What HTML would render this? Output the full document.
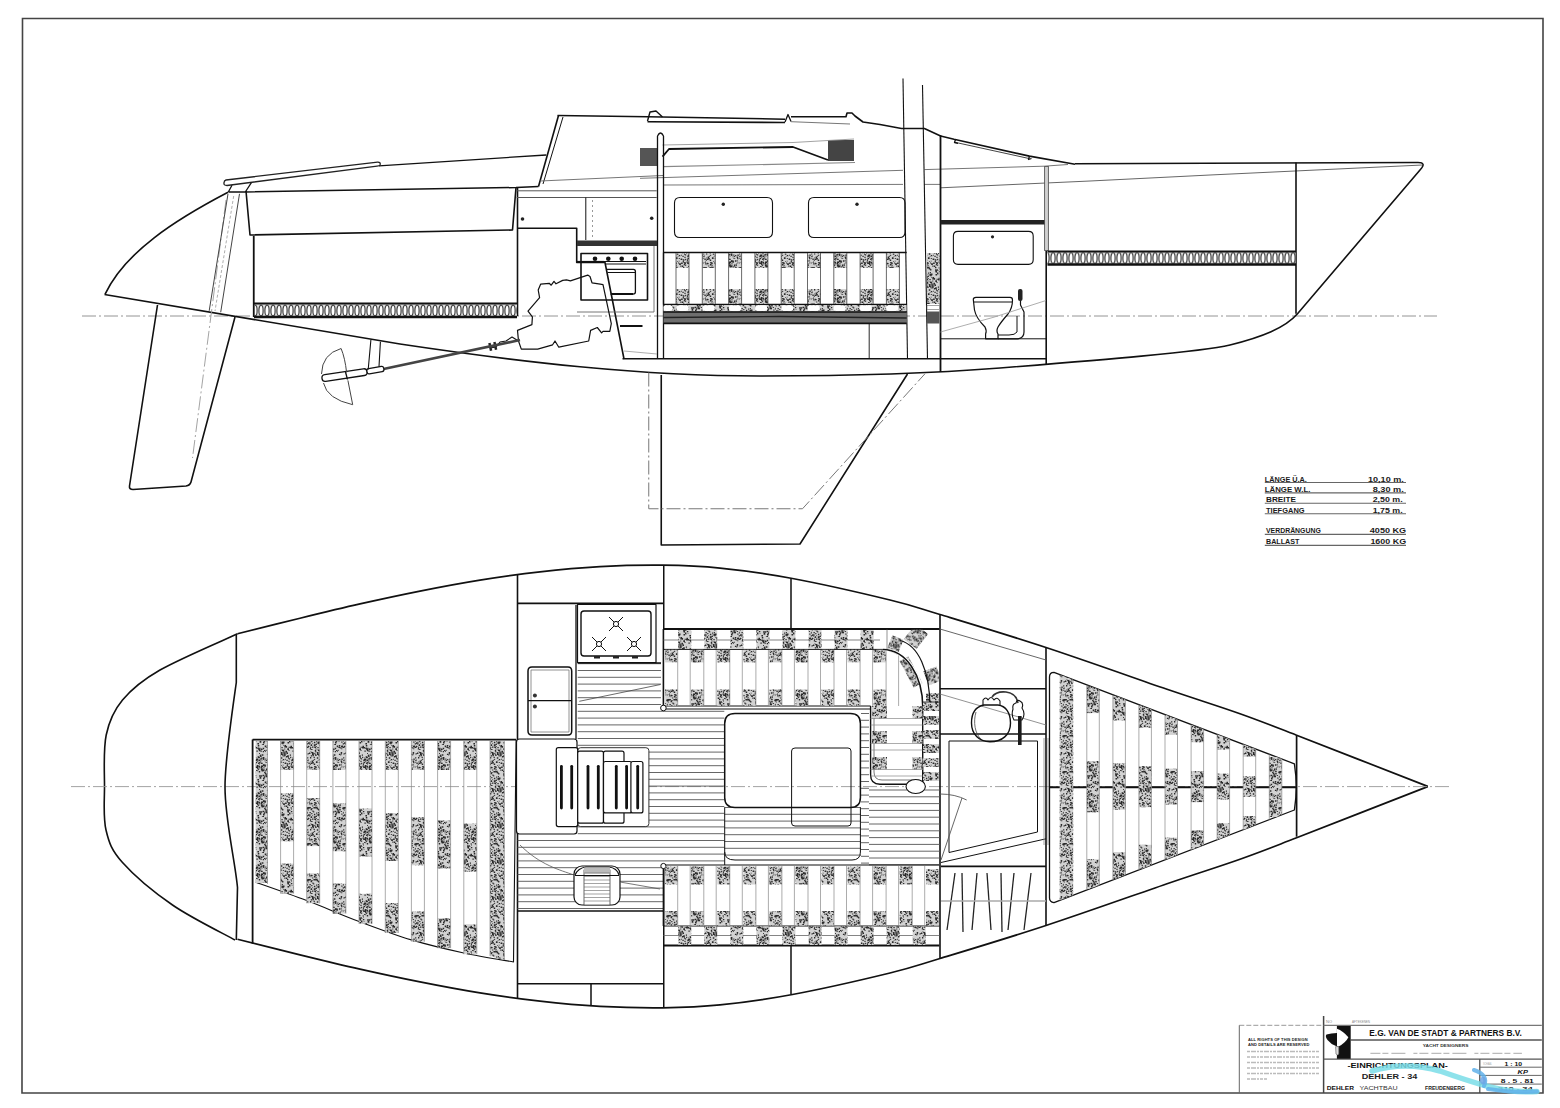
<!DOCTYPE html><html><head><meta charset="utf-8"><style>html,body{margin:0;padding:0;background:#fff;width:1560px;height:1108px;overflow:hidden}svg{display:block}</style></head><body>
<svg width="1560" height="1108" viewBox="0 0 1560 1108">
<defs>
<pattern id="st" width="36" height="36" patternUnits="userSpaceOnUse"><rect width="36" height="36" fill="#d2d2d2"/><path d="M8.6,19.6h1.1v1.1h-1.1zM21.7,22.5h0.8v0.8h-0.8zM0.5,30.1h1.0v1.0h-1.0zM36.5,30.1h1.0v1.0h-1.0zM8.4,35.8h1.2v1.2h-1.2zM8.4,-0.2h1.2v1.2h-1.2zM30.1,17.1h1.3v1.3h-1.3zM5.4,22.9h1.6v1.6h-1.6zM18.8,26.7h1.4v1.4h-1.4zM2.3,27.3h1.3v1.3h-1.3zM10.8,1.1h1.6v1.6h-1.6zM10.8,37.1h1.6v1.6h-1.6zM17.0,25.9h1.6v1.6h-1.6zM25.7,33.2h1.1v1.1h-1.1zM28.8,16.0h1.6v1.6h-1.6zM31.6,3.5h0.8v0.8h-0.8zM7.8,34.8h1.1v1.1h-1.1zM7.8,-1.2h1.1v1.1h-1.1zM22.6,10.8h1.2v1.2h-1.2zM13.9,12.6h1.3v1.3h-1.3zM21.0,32.6h1.4v1.4h-1.4zM33.4,30.8h1.7v1.7h-1.7zM24.2,5.9h1.6v1.6h-1.6zM34.7,32.6h1.3v1.3h-1.3zM-1.3,32.6h1.3v1.3h-1.3zM25.7,7.6h1.5v1.5h-1.5zM20.6,10.3h0.8v0.8h-0.8zM30.7,35.6h0.8v0.8h-0.8zM30.7,-0.4h0.8v0.8h-0.8zM28.8,14.8h0.9v0.9h-0.9zM10.6,27.7h1.6v1.6h-1.6zM1.6,22.1h0.7v0.7h-0.7zM37.6,22.1h0.7v0.7h-0.7zM25.9,11.9h1.6v1.6h-1.6zM35.3,18.2h1.7v1.7h-1.7zM-0.7,18.2h1.7v1.7h-1.7zM11.1,2.8h1.3v1.3h-1.3zM1.1,7.1h1.1v1.1h-1.1zM37.1,7.1h1.1v1.1h-1.1zM22.0,5.6h0.7v0.7h-0.7zM31.2,11.3h1.7v1.7h-1.7zM32.3,13.6h1.2v1.2h-1.2zM18.7,23.2h1.3v1.3h-1.3zM20.1,22.3h1.6v1.6h-1.6zM18.3,15.5h1.4v1.4h-1.4zM8.6,10.8h1.7v1.7h-1.7zM18.8,19.7h0.7v0.7h-0.7zM14.9,20.9h0.7v0.7h-0.7zM22.2,22.8h0.8v0.8h-0.8zM22.6,16.8h1.4v1.4h-1.4zM12.7,25.5h1.4v1.4h-1.4zM0.8,2.2h1.4v1.4h-1.4zM36.8,2.2h1.4v1.4h-1.4zM34.7,9.0h1.2v1.2h-1.2zM-1.3,9.0h1.2v1.2h-1.2zM21.3,11.5h1.1v1.1h-1.1zM11.3,13.3h1.3v1.3h-1.3zM10.8,13.6h1.5v1.5h-1.5zM1.0,20.5h1.4v1.4h-1.4zM37.0,20.5h1.4v1.4h-1.4zM11.2,8.0h1.5v1.5h-1.5zM8.6,6.7h1.1v1.1h-1.1zM25.1,3.7h1.0v1.0h-1.0zM12.0,30.0h1.1v1.1h-1.1zM30.8,6.1h1.0v1.0h-1.0zM23.4,31.9h1.2v1.2h-1.2zM8.1,4.4h1.2v1.2h-1.2zM6.9,29.0h1.5v1.5h-1.5zM6.6,10.0h1.5v1.5h-1.5zM23.1,29.0h1.0v1.0h-1.0zM4.7,10.5h1.5v1.5h-1.5zM9.8,12.5h1.1v1.1h-1.1zM15.1,14.7h1.6v1.6h-1.6zM5.6,0.2h1.6v1.6h-1.6zM5.6,36.2h1.6v1.6h-1.6zM31.7,35.5h1.1v1.1h-1.1zM31.7,-0.5h1.1v1.1h-1.1zM34.2,33.4h0.9v0.9h-0.9zM-1.8,33.4h0.9v0.9h-0.9zM26.8,30.1h1.4v1.4h-1.4zM18.7,10.4h1.0v1.0h-1.0zM8.2,2.5h1.3v1.3h-1.3zM10.3,29.2h0.7v0.7h-0.7zM32.5,25.0h1.6v1.6h-1.6zM32.3,32.4h1.3v1.3h-1.3zM0.5,26.8h0.9v0.9h-0.9zM36.5,26.8h0.9v0.9h-0.9zM10.8,23.9h1.2v1.2h-1.2zM14.9,33.8h1.3v1.3h-1.3zM12.3,9.1h1.6v1.6h-1.6zM17.2,28.2h1.1v1.1h-1.1zM7.1,19.2h1.5v1.5h-1.5zM6.2,28.5h1.6v1.6h-1.6zM29.0,29.6h0.7v0.7h-0.7zM22.6,31.1h0.7v0.7h-0.7zM9.8,9.7h1.2v1.2h-1.2zM15.2,17.0h1.5v1.5h-1.5zM0.1,2.0h0.8v0.8h-0.8zM0.1,38.0h0.8v0.8h-0.8zM36.1,2.0h0.8v0.8h-0.8zM36.1,38.0h0.8v0.8h-0.8zM4.5,2.5h1.7v1.7h-1.7zM30.8,3.1h1.2v1.2h-1.2zM11.4,11.3h1.1v1.1h-1.1zM23.3,21.1h1.1v1.1h-1.1zM6.9,11.8h0.8v0.8h-0.8zM20.0,25.8h1.1v1.1h-1.1zM2.9,6.4h1.1v1.1h-1.1zM21.8,28.2h1.1v1.1h-1.1zM28.8,22.4h1.1v1.1h-1.1zM13.4,17.9h1.4v1.4h-1.4zM15.1,25.0h1.2v1.2h-1.2zM8.8,19.3h1.4v1.4h-1.4zM2.6,15.3h1.1v1.1h-1.1zM31.7,33.7h1.1v1.1h-1.1zM32.3,28.5h1.0v1.0h-1.0zM16.7,4.4h1.5v1.5h-1.5zM23.8,31.9h1.5v1.5h-1.5zM24.0,26.4h1.3v1.3h-1.3zM3.7,21.2h0.7v0.7h-0.7zM5.2,27.9h0.7v0.7h-0.7zM3.3,3.6h1.6v1.6h-1.6zM6.4,0.8h1.5v1.5h-1.5zM6.4,36.8h1.5v1.5h-1.5zM4.4,30.4h1.4v1.4h-1.4zM30.1,34.3h1.3v1.3h-1.3zM30.1,-1.7h1.3v1.3h-1.3zM28.8,1.3h1.5v1.5h-1.5zM28.8,37.3h1.5v1.5h-1.5zM18.4,25.7h0.8v0.8h-0.8zM27.0,33.6h0.8v0.8h-0.8zM11.7,20.3h1.5v1.5h-1.5zM8.7,6.5h0.9v0.9h-0.9zM22.2,27.1h1.1v1.1h-1.1zM13.2,14.3h1.1v1.1h-1.1zM15.1,3.0h1.2v1.2h-1.2zM35.0,14.9h1.4v1.4h-1.4zM-1.0,14.9h1.4v1.4h-1.4zM5.8,24.9h1.5v1.5h-1.5zM24.3,18.6h1.2v1.2h-1.2zM23.1,32.3h0.8v0.8h-0.8zM3.5,26.9h1.6v1.6h-1.6zM18.6,15.9h1.4v1.4h-1.4zM6.7,9.6h0.9v0.9h-0.9zM21.1,11.3h0.9v0.9h-0.9zM24.9,34.3h1.0v1.0h-1.0zM24.9,-1.7h1.0v1.0h-1.0zM25.4,14.9h1.6v1.6h-1.6zM21.0,9.6h0.9v0.9h-0.9zM0.8,17.3h1.1v1.1h-1.1zM36.8,17.3h1.1v1.1h-1.1zM6.2,13.0h1.0v1.0h-1.0zM27.9,5.2h1.7v1.7h-1.7zM17.3,21.6h1.2v1.2h-1.2zM30.0,29.6h1.3v1.3h-1.3zM17.3,25.9h1.6v1.6h-1.6zM14.4,26.4h1.7v1.7h-1.7zM16.8,8.3h0.9v0.9h-0.9zM25.8,24.3h1.7v1.7h-1.7zM30.7,8.7h0.9v0.9h-0.9zM9.3,6.7h1.4v1.4h-1.4zM30.9,32.4h1.0v1.0h-1.0zM31.1,11.3h1.1v1.1h-1.1zM26.2,3.1h0.8v0.8h-0.8zM30.0,10.5h1.1v1.1h-1.1zM20.9,24.3h0.7v0.7h-0.7zM12.1,15.7h1.2v1.2h-1.2zM7.6,21.1h1.7v1.7h-1.7zM14.1,19.6h0.8v0.8h-0.8zM9.9,24.0h0.8v0.8h-0.8zM31.9,32.7h0.8v0.8h-0.8zM33.9,13.5h1.5v1.5h-1.5zM27.3,10.6h1.4v1.4h-1.4zM23.5,29.0h1.0v1.0h-1.0zM27.2,34.6h1.4v1.4h-1.4zM27.2,-1.4h1.4v1.4h-1.4zM19.3,4.1h1.2v1.2h-1.2zM12.7,25.9h1.4v1.4h-1.4zM20.4,6.6h1.3v1.3h-1.3zM22.7,6.4h1.6v1.6h-1.6zM23.6,4.4h1.6v1.6h-1.6zM5.1,11.9h1.4v1.4h-1.4zM21.5,20.0h1.3v1.3h-1.3zM16.5,11.2h0.9v0.9h-0.9zM2.5,25.8h1.5v1.5h-1.5zM19.6,26.6h1.1v1.1h-1.1zM9.6,13.8h1.6v1.6h-1.6zM1.5,18.2h0.9v0.9h-0.9zM37.5,18.2h0.9v0.9h-0.9zM27.7,12.7h1.0v1.0h-1.0zM14.5,19.5h1.5v1.5h-1.5zM12.7,30.5h0.8v0.8h-0.8zM9.7,3.6h0.8v0.8h-0.8zM28.0,26.2h0.9v0.9h-0.9zM6.8,15.0h1.4v1.4h-1.4zM29.4,27.0h1.3v1.3h-1.3zM5.3,14.3h0.9v0.9h-0.9zM19.0,20.5h0.9v0.9h-0.9zM9.0,28.1h0.7v0.7h-0.7zM28.9,32.1h1.6v1.6h-1.6zM13.8,19.9h1.3v1.3h-1.3zM22.8,35.2h1.4v1.4h-1.4zM22.8,-0.8h1.4v1.4h-1.4zM10.8,31.0h1.2v1.2h-1.2zM21.6,26.2h0.7v0.7h-0.7zM27.7,23.8h1.2v1.2h-1.2zM18.9,16.6h0.9v0.9h-0.9zM19.1,1.3h1.2v1.2h-1.2zM19.1,37.3h1.2v1.2h-1.2zM23.3,16.0h1.3v1.3h-1.3zM34.5,32.1h0.8v0.8h-0.8zM-1.5,32.1h0.8v0.8h-0.8zM28.5,22.4h0.8v0.8h-0.8zM13.0,8.4h0.8v0.8h-0.8zM19.4,33.5h1.0v1.0h-1.0zM31.3,25.0h0.8v0.8h-0.8zM30.9,21.6h1.6v1.6h-1.6zM25.8,26.6h1.0v1.0h-1.0zM29.0,33.5h1.6v1.6h-1.6zM15.7,27.2h1.2v1.2h-1.2zM3.9,1.5h0.8v0.8h-0.8zM3.9,37.5h0.8v0.8h-0.8zM7.2,5.8h1.2v1.2h-1.2zM25.2,19.3h1.1v1.1h-1.1zM23.4,11.0h1.2v1.2h-1.2zM27.3,14.5h0.9v0.9h-0.9zM32.4,25.9h1.1v1.1h-1.1zM13.4,19.1h1.3v1.3h-1.3zM8.1,0.1h0.9v0.9h-0.9zM8.1,36.1h0.9v0.9h-0.9zM28.2,5.2h1.2v1.2h-1.2zM7.0,7.5h0.9v0.9h-0.9zM14.5,6.1h0.7v0.7h-0.7zM4.0,6.1h1.2v1.2h-1.2zM2.1,0.8h1.1v1.1h-1.1zM2.1,36.8h1.1v1.1h-1.1zM14.7,25.3h0.8v0.8h-0.8zM14.5,14.3h0.7v0.7h-0.7zM34.8,7.9h0.8v0.8h-0.8zM-1.2,7.9h0.8v0.8h-0.8zM17.1,5.9h1.3v1.3h-1.3zM12.5,4.5h0.8v0.8h-0.8zM26.2,9.9h1.5v1.5h-1.5zM16.8,33.6h1.0v1.0h-1.0zM9.0,9.6h1.5v1.5h-1.5zM22.6,12.4h0.8v0.8h-0.8zM24.6,34.9h1.3v1.3h-1.3zM24.6,-1.1h1.3v1.3h-1.3zM0.1,1.1h0.8v0.8h-0.8zM0.1,37.1h0.8v0.8h-0.8zM36.1,1.1h0.8v0.8h-0.8zM36.1,37.1h0.8v0.8h-0.8zM6.1,1.3h0.8v0.8h-0.8zM6.1,37.3h0.8v0.8h-0.8zM23.6,32.4h0.9v0.9h-0.9zM35.1,17.2h1.5v1.5h-1.5zM-0.9,17.2h1.5v1.5h-1.5zM33.0,33.8h0.7v0.7h-0.7zM11.0,21.8h1.6v1.6h-1.6zM3.2,10.6h1.5v1.5h-1.5zM4.1,14.0h1.0v1.0h-1.0zM24.5,33.4h0.9v0.9h-0.9zM26.6,26.4h1.5v1.5h-1.5zM19.9,33.2h1.1v1.1h-1.1zM14.9,8.3h1.5v1.5h-1.5zM17.3,9.7h0.9v0.9h-0.9zM25.9,21.8h1.4v1.4h-1.4zM13.9,17.5h0.9v0.9h-0.9zM25.6,0.8h1.2v1.2h-1.2zM25.6,36.8h1.2v1.2h-1.2zM27.3,24.4h0.8v0.8h-0.8zM8.5,30.4h1.3v1.3h-1.3zM31.6,31.4h1.1v1.1h-1.1zM32.3,26.4h1.0v1.0h-1.0zM13.3,2.6h1.1v1.1h-1.1zM34.4,3.8h1.3v1.3h-1.3zM-1.6,3.8h1.3v1.3h-1.3zM4.0,2.9h1.3v1.3h-1.3zM8.7,1.8h0.9v0.9h-0.9zM8.7,37.8h0.9v0.9h-0.9zM23.2,21.1h0.7v0.7h-0.7zM8.3,34.8h0.9v0.9h-0.9zM8.3,-1.2h0.9v0.9h-0.9zM20.2,15.1h1.5v1.5h-1.5zM21.8,28.4h1.2v1.2h-1.2zM6.8,6.4h0.8v0.8h-0.8zM29.7,4.1h0.7v0.7h-0.7zM34.8,7.2h1.6v1.6h-1.6zM-1.2,7.2h1.6v1.6h-1.6zM3.1,16.7h0.9v0.9h-0.9zM29.9,22.2h1.3v1.3h-1.3zM27.4,31.4h1.0v1.0h-1.0zM21.7,16.0h0.8v0.8h-0.8zM30.1,21.4h1.5v1.5h-1.5zM7.4,19.4h1.2v1.2h-1.2zM26.2,2.8h1.0v1.0h-1.0zM17.4,2.6h1.3v1.3h-1.3zM26.5,15.2h1.3v1.3h-1.3zM21.8,7.7h1.1v1.1h-1.1zM35.8,12.1h1.1v1.1h-1.1zM-0.2,12.1h1.1v1.1h-1.1zM3.0,7.8h0.9v0.9h-0.9zM33.5,26.1h1.6v1.6h-1.6zM35.5,22.0h1.6v1.6h-1.6zM-0.5,22.0h1.6v1.6h-1.6zM19.3,15.1h1.6v1.6h-1.6zM32.5,34.2h1.2v1.2h-1.2zM32.5,-1.8h1.2v1.2h-1.2zM27.8,14.7h1.7v1.7h-1.7zM33.1,10.5h1.6v1.6h-1.6zM6.6,3.5h1.4v1.4h-1.4zM10.6,18.7h1.3v1.3h-1.3zM1.5,26.8h1.0v1.0h-1.0zM37.5,26.8h1.0v1.0h-1.0zM15.6,12.4h1.4v1.4h-1.4zM26.9,10.3h0.8v0.8h-0.8zM10.8,14.8h0.8v0.8h-0.8zM5.5,27.5h1.4v1.4h-1.4zM35.2,35.3h1.6v1.6h-1.6zM35.2,-0.7h1.6v1.6h-1.6zM-0.8,35.3h1.6v1.6h-1.6zM-0.8,-0.7h1.6v1.6h-1.6zM13.4,5.8h1.0v1.0h-1.0zM16.7,18.9h1.2v1.2h-1.2zM12.9,30.7h1.0v1.0h-1.0zM16.7,31.9h1.5v1.5h-1.5zM10.7,8.7h1.5v1.5h-1.5zM0.4,4.7h1.2v1.2h-1.2zM36.4,4.7h1.2v1.2h-1.2zM19.3,6.0h0.8v0.8h-0.8zM7.3,27.7h1.2v1.2h-1.2zM35.3,28.3h1.7v1.7h-1.7zM-0.7,28.3h1.7v1.7h-1.7zM1.3,6.7h0.7v0.7h-0.7zM37.3,6.7h0.7v0.7h-0.7zM15.6,12.2h0.8v0.8h-0.8zM19.7,3.4h1.0v1.0h-1.0zM8.9,28.9h1.1v1.1h-1.1zM9.4,1.6h1.1v1.1h-1.1zM9.4,37.6h1.1v1.1h-1.1zM22.6,24.3h1.6v1.6h-1.6zM29.1,8.9h0.8v0.8h-0.8zM27.3,28.4h1.2v1.2h-1.2zM29.9,19.9h1.0v1.0h-1.0zM6.1,0.6h1.3v1.3h-1.3zM6.1,36.6h1.3v1.3h-1.3zM32.3,32.6h1.2v1.2h-1.2zM24.0,33.4h1.5v1.5h-1.5zM21.7,14.9h1.2v1.2h-1.2zM6.1,6.6h1.4v1.4h-1.4zM35.7,19.7h1.1v1.1h-1.1zM-0.3,19.7h1.1v1.1h-1.1zM12.7,16.4h1.5v1.5h-1.5zM16.3,34.5h0.9v0.9h-0.9zM16.3,-1.5h0.9v0.9h-0.9zM11.3,18.8h1.1v1.1h-1.1zM30.6,29.8h1.6v1.6h-1.6zM22.0,1.1h1.3v1.3h-1.3zM22.0,37.1h1.3v1.3h-1.3zM19.8,17.6h1.0v1.0h-1.0zM25.5,32.8h0.8v0.8h-0.8zM24.1,13.4h1.2v1.2h-1.2zM32.2,34.6h1.3v1.3h-1.3zM32.2,-1.4h1.3v1.3h-1.3zM7.0,33.1h0.9v0.9h-0.9zM13.8,29.8h1.0v1.0h-1.0zM9.8,34.2h1.6v1.6h-1.6zM9.8,-1.8h1.6v1.6h-1.6zM11.4,14.1h1.0v1.0h-1.0zM4.7,9.0h1.7v1.7h-1.7zM2.9,8.3h0.9v0.9h-0.9zM2.9,18.9h1.4v1.4h-1.4zM30.2,22.7h1.5v1.5h-1.5zM0.2,10.2h1.7v1.7h-1.7zM36.2,10.2h1.7v1.7h-1.7zM2.5,9.6h1.2v1.2h-1.2zM9.6,19.7h0.7v0.7h-0.7zM8.5,34.5h0.8v0.8h-0.8zM8.5,-1.5h0.8v0.8h-0.8zM32.6,6.4h1.7v1.7h-1.7zM24.3,23.3h0.8v0.8h-0.8zM2.0,27.3h0.9v0.9h-0.9zM38.0,27.3h0.9v0.9h-0.9zM6.8,29.6h1.6v1.6h-1.6zM1.8,34.6h1.2v1.2h-1.2zM1.8,-1.4h1.2v1.2h-1.2zM37.8,34.6h1.2v1.2h-1.2zM37.8,-1.4h1.2v1.2h-1.2zM13.8,3.9h1.1v1.1h-1.1zM35.6,10.1h0.8v0.8h-0.8zM-0.4,10.1h0.8v0.8h-0.8zM5.2,4.6h1.1v1.1h-1.1zM32.9,2.8h0.9v0.9h-0.9zM33.8,35.9h1.7v1.7h-1.7zM33.8,-0.1h1.7v1.7h-1.7zM8.9,12.8h1.7v1.7h-1.7zM17.5,25.3h1.0v1.0h-1.0zM0.8,12.4h1.4v1.4h-1.4zM36.8,12.4h1.4v1.4h-1.4zM28.1,20.5h1.2v1.2h-1.2zM19.4,15.9h1.2v1.2h-1.2z" fill="#2a2a2a"/></pattern>
<pattern id="coil" width="6" height="13" patternUnits="userSpaceOnUse" patternTransform="translate(0,304)"><rect width="6" height="13" fill="#ddd"/><ellipse cx="3" cy="6.5" rx="2.1" ry="5.4" fill="#fff" stroke="#444" stroke-width="1.2"/></pattern><pattern id="coil2" width="6" height="13" patternUnits="userSpaceOnUse" patternTransform="translate(0,251.5)"><rect width="6" height="13" fill="#ddd"/><ellipse cx="3" cy="6.5" rx="2.1" ry="5.4" fill="#fff" stroke="#444" stroke-width="1.2"/></pattern>
</defs>
<rect width="1560" height="1108" fill="#fff"/>
<path d="M22.5,18.5 L1543,18.5 L1543,1093 L22,1093 Z" fill="none" stroke="#444" stroke-width="1.6"/>
<path d="M82,316 L1437,316" fill="none" stroke="#888" stroke-width="0.9" stroke-dasharray="14 3 2 3"/>
<path d="M104.5,294.5 L400,344 C520,362 640,376 760,376 C860,376 950,372 1000,368 C1100,360 1200,352 1230,345 C1262,337 1285,328 1297.5,313.75 L1420,170 Q1427,162.5 1418,162.5 L1075,163.75" fill="none" stroke="#111" stroke-width="1.6" stroke-linejoin="round" />
<path d="M228,192.3 C175,220 125,252 105.1,294.2" fill="none" stroke="#111" stroke-width="1.6" stroke-linejoin="round" />
<path d="M1075,164.2 L1029.4,156.1 L954,139.3 L940.6,136 L924.4,128.5 L901.5,128.5 L880,124.5 L863,122 L855,116 L852,113 L847,113 L846,116.7 L791,116.7" fill="none" stroke="#111" stroke-width="1.6" stroke-linejoin="round" />
<path d="M557.5,115.5 L647.5,116.7 L785,119.2" fill="none" stroke="#111" stroke-width="1.6" stroke-linejoin="round" />
<path d="M558.5,115.5 L538.5,186.5" fill="none" stroke="#111" stroke-width="1.6" stroke-linejoin="round" />
<path d="M563,117 L543,184" fill="none" stroke="#111" stroke-width="1.0" stroke-linejoin="round" />
<path d="M379,165.8 L546.25,155" fill="none" stroke="#111" stroke-width="1.3" stroke-linejoin="round" />
<path d="M245.3,192 L516,187.5 L538.5,186.5" fill="none" stroke="#111" stroke-width="1.5" stroke-linejoin="round" />
<path d="M246,191 L250,235 L512.5,230 L516,187.5" fill="none" stroke="#111" stroke-width="1.6" stroke-linejoin="round" />
<path d="M226,180 L377.5,162.2 Q381,162 380,165 Q379.5,166 377,166.2 L227,185.5 Q223.5,185.5 224,183 Q224,180.5 226,180 Z" fill="none" stroke="#222" stroke-width="1.3" stroke-linejoin="round" />
<path d="M228.3,192 L232,185.3 M245.3,192 L251.4,182.6 M228.3,192 L245.3,192" fill="none" stroke="#111" stroke-width="1.3" stroke-linejoin="round" />
<path d="M253.75,236 L253.75,317" fill="none" stroke="#111" stroke-width="1.8" stroke-linejoin="round" />
<path d="M517.5,187.5 L517.5,316" fill="none" stroke="#111" stroke-width="1.6" stroke-linejoin="round" />
<rect x="255" y="304" width="262" height="13" fill="url(#coil)"/>
<path d="M254,303.5 L517,303.5" fill="none" stroke="#111" stroke-width="1.8" stroke-linejoin="round" />
<path d="M254,317 L517,317" fill="none" stroke="#111" stroke-width="2.6" stroke-linejoin="round" />
<path d="M157.5,305 L129.5,486 Q129,489.5 133,489.5 L186,486 Q190,485.5 191,482 L235,317" fill="none" stroke="#111" stroke-width="1.6" stroke-linejoin="round" />
<path d="M226,200 L192.5,458" fill="none" stroke="#999" stroke-width="0.9" stroke-dasharray="14 3 2 3"/>
<path d="M228,193.8 L209.2,310.8" fill="none" stroke="#444" stroke-width="1.0" stroke-linejoin="round" />
<path d="M239.5,193.8 L220.7,312.3" fill="none" stroke="#444" stroke-width="1.0" stroke-linejoin="round" />
<path d="M233.7,196 L215,311" stroke="#999" stroke-width="0.8" stroke-dasharray="3 2"/>
<path d="M661.25,375 L661.25,545 L800,544 L907.5,374" fill="none" stroke="#111" stroke-width="1.6" stroke-linejoin="round" />
<path d="M648.75,372.5 L648.75,508.75 L802.5,508.75 L925,373.75" fill="none" stroke="#777" stroke-width="1.0" stroke-dasharray="14 3 2 3"/>
<path d="M540,181 L663,175.5" fill="none" stroke="#666" stroke-width="0.9" stroke-linejoin="round" />
<path d="M663,166.7 L855,162.5" fill="none" stroke="#888" stroke-width="1.2" stroke-linejoin="round" />
<path d="M640,178.3 L903,170.3 M924.4,169.6 L1044,166.2 L1068,164.5" fill="none" stroke="#666" stroke-width="0.9" stroke-linejoin="round" />
<path d="M663,185 L903,184.4 M924.4,184.4 L940,184.4" fill="none" stroke="#666" stroke-width="0.9" stroke-linejoin="round" />
<path d="M940.6,187.8 L1090,181 L1210,175 L1422.5,165" fill="none" stroke="#555" stroke-width="0.9" stroke-linejoin="round" />
<path d="M516.7,190.8 L656.7,190.8 M516.7,197.5 L656.7,197.5" fill="none" stroke="#555" stroke-width="1.0" stroke-linejoin="round" />
<path d="M647.5,121.7 L785,122.5" fill="none" stroke="#111" stroke-width="1.6" stroke-linejoin="round" />
<path d="M647.5,121 L650,112 L656,111 L662.5,116.9" fill="none" stroke="#111" stroke-width="1.4" stroke-linejoin="round" />
<path d="M785,122 L788,114.5 L791,121.5" fill="none" stroke="#111" stroke-width="1.3" stroke-linejoin="round" />
<path d="M791,121.7 L850,124" fill="none" stroke="#777" stroke-width="1.0" stroke-linejoin="round" />
<rect x="828" y="140" width="26" height="21" fill="#444"/>
<rect x="640" y="148" width="17" height="18" fill="#555"/>
<path d="M662.5,156.7 L669,149 L793,147 L828,160" fill="none" stroke="#111" stroke-width="1.8" stroke-linejoin="round" />
<path d="M662.5,145 L793,142.5 L854,139" fill="none" stroke="#999" stroke-width="0.9" stroke-linejoin="round" />
<path d="M903,78.5 L907.5,359" fill="none" stroke="#111" stroke-width="1.1" stroke-linejoin="round" />
<path d="M922.5,85 L927.5,359" fill="none" stroke="#111" stroke-width="1.1" stroke-linejoin="round" />
<path d="M657.5,136 L657.5,359 M663.5,136 L663.5,359 M657.5,136 Q660.5,130 663.5,136" fill="none" stroke="#111" stroke-width="1.3" stroke-linejoin="round" />
<path d="M956,142.5 L1029,158.5" fill="none" stroke="#444" stroke-width="1.0" stroke-linejoin="round" />
<path d="M955.5,139.5 L954.5,142.5 L958,143.3 M1029.5,156 L1028.5,159.5 L1031.5,158.5" fill="none" stroke="#111" stroke-width="1.3" stroke-linejoin="round" />
<path d="M940.5,135 L940.5,372" fill="none" stroke="#111" stroke-width="1.8" stroke-linejoin="round" />
<rect x="1044.6" y="166.5" width="3.8" height="84" fill="#d0d0d0" stroke="#555" stroke-width="0.9"/>
<path d="M1046.2,251 L1046.2,364" fill="none" stroke="#111" stroke-width="1.6" stroke-linejoin="round" />
<path d="M1296,162.5 L1296,313.75" fill="none" stroke="#111" stroke-width="1.6" stroke-linejoin="round" />
<path d="M517.5,228.3 L576.7,228.3 L576.7,262.5 L605,262.5 L624,359" fill="none" stroke="#111" stroke-width="1.6" stroke-linejoin="round" />
<path d="M585.8,197.5 L585.8,240" fill="none" stroke="#111" stroke-width="1.0" stroke-linejoin="round" />
<path d="M592.5,200 L592.5,240" fill="none" stroke="#999" stroke-width="1.0" stroke-linejoin="round" stroke-dasharray="2 3"/>
<circle cx="522.5" cy="219" r="1.8" fill="#222"/><circle cx="651.7" cy="218.3" r="1.8" fill="#222"/>
<rect x="577" y="240.5" width="80" height="5.5" fill="#333"/>
<path d="M581,253.5 L647.5,253.5 L647.5,300 L581,300 Z" fill="none" stroke="#111" stroke-width="1.6" stroke-linejoin="round" />
<path d="M577,261.7 L604,261.7" fill="none" stroke="#111" stroke-width="1.6" stroke-linejoin="round" />
<path d="M604,261.5 L646,261.5 M605,264 L646,264" fill="none" stroke="#111" stroke-width="1.0" stroke-linejoin="round" />
<circle cx="595" cy="258.7" r="2.3" fill="#111"/>
<circle cx="608.3" cy="258.7" r="2.3" fill="#111"/>
<circle cx="621.7" cy="258.7" r="2.3" fill="#111"/>
<circle cx="635" cy="258.7" r="2.3" fill="#111"/>
<path d="M607,269.3 L633.5,269.3 Q635.4,269.3 635.4,271.5 L635.4,292 Q635.4,294.1 633,294.1 L610.5,294.1" fill="none" stroke="#111" stroke-width="1.3" stroke-linejoin="round" />
<path d="M611,294 L633,294" fill="none" stroke="#111" stroke-width="2.0" stroke-linejoin="round" />
<path d="M607.5,272.5 L635,272.5" fill="none" stroke="#111" stroke-width="1.0" stroke-linejoin="round" />
<path d="M654,246 L654,312 L577,312" fill="none" stroke="#666" stroke-width="0.9" stroke-linejoin="round" />
<path d="M620,326 L642.5,326" fill="none" stroke="#111" stroke-width="2.0" stroke-linejoin="round" />
<path d="M624,351 L657,354" fill="none" stroke="#999" stroke-width="0.8" stroke-linejoin="round" />
<path d="M622.5,358.8 L1046,358.8" fill="none" stroke="#111" stroke-width="1.6" stroke-linejoin="round" />
<path d="M869.2,310 L869.2,358.8" fill="none" stroke="#111" stroke-width="0.9" stroke-linejoin="round" />
<path d="M680,197.5 L767,197.5 Q772.5,197.5 772.5,203 L772.5,232 Q772.5,237.5 767,237.5 L680,237.5 Q674.5,237.5 674.5,232 L674.5,203 Q674.5,197.5 680,197.5 Z" fill="none" stroke="#111" stroke-width="1.1" stroke-linejoin="round" />
<path d="M814,197.5 L899.5,197.5 Q905,197.5 905,203 L905,232 Q905,237.5 899.5,237.5 L814,237.5 Q808.5,237.5 808.5,232 L808.5,203 Q808.5,197.5 814,197.5 Z" fill="none" stroke="#111" stroke-width="1.1" stroke-linejoin="round" />
<circle cx="723.3" cy="204.2" r="1.7" fill="#222"/><circle cx="857" cy="204.2" r="1.7" fill="#222"/>
<path d="M663.5,252.5 L906.7,252.5 M663.5,304.4 L906.7,304.4 M663.5,252.5 L663.5,304.4" fill="none" stroke="#111" stroke-width="1.3" stroke-linejoin="round" />
<rect x="676.0" y="253.5" width="13" height="14.4" fill="url(#st)"/>
<rect x="676.0" y="289" width="13" height="14.5" fill="url(#st)"/>
<path d="M676.0,253 L676.0,304 M689.0,253 L689.0,304" fill="none" stroke="#444" stroke-width="0.8" stroke-linejoin="round" />
<rect x="702.3" y="253.5" width="13" height="14.4" fill="url(#st)"/>
<rect x="702.3" y="289" width="13" height="14.5" fill="url(#st)"/>
<path d="M702.3,253 L702.3,304 M715.3,253 L715.3,304" fill="none" stroke="#444" stroke-width="0.8" stroke-linejoin="round" />
<rect x="728.6" y="253.5" width="13" height="14.4" fill="url(#st)"/>
<rect x="728.6" y="289" width="13" height="14.5" fill="url(#st)"/>
<path d="M728.6,253 L728.6,304 M741.6,253 L741.6,304" fill="none" stroke="#444" stroke-width="0.8" stroke-linejoin="round" />
<rect x="754.9" y="253.5" width="13" height="14.4" fill="url(#st)"/>
<rect x="754.9" y="289" width="13" height="14.5" fill="url(#st)"/>
<path d="M754.9,253 L754.9,304 M767.9,253 L767.9,304" fill="none" stroke="#444" stroke-width="0.8" stroke-linejoin="round" />
<rect x="781.2" y="253.5" width="13" height="14.4" fill="url(#st)"/>
<rect x="781.2" y="289" width="13" height="14.5" fill="url(#st)"/>
<path d="M781.2,253 L781.2,304 M794.2,253 L794.2,304" fill="none" stroke="#444" stroke-width="0.8" stroke-linejoin="round" />
<rect x="807.5" y="253.5" width="13" height="14.4" fill="url(#st)"/>
<rect x="807.5" y="289" width="13" height="14.5" fill="url(#st)"/>
<path d="M807.5,253 L807.5,304 M820.5,253 L820.5,304" fill="none" stroke="#444" stroke-width="0.8" stroke-linejoin="round" />
<rect x="833.8" y="253.5" width="13" height="14.4" fill="url(#st)"/>
<rect x="833.8" y="289" width="13" height="14.5" fill="url(#st)"/>
<path d="M833.8,253 L833.8,304 M846.8,253 L846.8,304" fill="none" stroke="#444" stroke-width="0.8" stroke-linejoin="round" />
<rect x="860.1" y="253.5" width="13" height="14.4" fill="url(#st)"/>
<rect x="860.1" y="289" width="13" height="14.5" fill="url(#st)"/>
<path d="M860.1,253 L860.1,304 M873.1,253 L873.1,304" fill="none" stroke="#444" stroke-width="0.8" stroke-linejoin="round" />
<rect x="886.4" y="253.5" width="13" height="14.4" fill="url(#st)"/>
<rect x="886.4" y="289" width="13" height="14.5" fill="url(#st)"/>
<path d="M886.4,253 L886.4,304 M899.4,253 L899.4,304" fill="none" stroke="#444" stroke-width="0.8" stroke-linejoin="round" />
<rect x="927" y="253" width="12.5" height="51" fill="url(#st)"/>
<rect x="663.5" y="305" width="243" height="6.5" fill="url(#st)"/>
<rect x="676.5" y="305.3" width="12" height="5.6" rx="2.5" fill="#fff"/>
<rect x="702.7" y="305.3" width="12" height="5.6" rx="2.5" fill="#fff"/>
<rect x="728.9" y="305.3" width="12" height="5.6" rx="2.5" fill="#fff"/>
<rect x="755.1" y="305.3" width="12" height="5.6" rx="2.5" fill="#fff"/>
<rect x="781.3" y="305.3" width="12" height="5.6" rx="2.5" fill="#fff"/>
<rect x="807.5" y="305.3" width="12" height="5.6" rx="2.5" fill="#fff"/>
<rect x="833.7" y="305.3" width="12" height="5.6" rx="2.5" fill="#fff"/>
<rect x="859.9" y="305.3" width="12" height="5.6" rx="2.5" fill="#fff"/>
<rect x="886.1" y="305.3" width="12" height="5.6" rx="2.5" fill="#fff"/>
<rect x="663.5" y="305.3" width="9" height="5.6" rx="2.5" fill="#fff"/>
<rect x="663.5" y="311.5" width="243.2" height="12" fill="#6e6e6e"/>
<path d="M663.5,312 L906.7,312" fill="none" stroke="#111" stroke-width="1.3" stroke-linejoin="round" />
<path d="M663.5,317.5 L780,316.5 L906.7,318" fill="none" stroke="#222" stroke-width="1.4" stroke-linejoin="round" />
<path d="M663.5,323.3 L906.7,323.3" fill="none" stroke="#111" stroke-width="1.8" stroke-linejoin="round" />
<rect x="927" y="311.5" width="12.5" height="12" fill="#555"/>
<rect x="927" y="305.5" width="12.5" height="4" fill="#fff" stroke="#666" stroke-width="0.6"/>
<rect x="940.4" y="220" width="104" height="4.5" fill="#222"/>
<path d="M958,231.4 L1028.6,231.4 Q1033.2,231.4 1033.2,236 L1033.2,259.8 Q1033.2,264.4 1028.6,264.4 L958,264.4 Q953.4,264.4 953.4,259.8 L953.4,236 Q953.4,231.4 958,231.4 Z" fill="none" stroke="#111" stroke-width="1.1" stroke-linejoin="round" />
<circle cx="992.5" cy="236.8" r="1.6" fill="#222"/>
<path d="M973.3,299.5 Q973.3,297.4 976,297.4 L1010,297.4 Q1012.5,297.4 1012.5,300 Q1012.5,308 1008,314 Q1001,322 998,327 Q996,331 998,334 L998,338.8 L985.6,338.8 L985.6,334 Q987,331 985,327 Q976,318 974.5,310 Z" fill="none" stroke="#111" stroke-width="1.2" stroke-linejoin="round" />
<path d="M974,302 L1012,302" fill="none" stroke="#111" stroke-width="1.0" stroke-linejoin="round" />
<path d="M998,338.8 L1018,338.8 Q1024,338 1024,332 L1024,312 L1020.5,305 L1020.5,292" fill="none" stroke="#111" stroke-width="1.2" stroke-linejoin="round" />
<rect x="1018" y="289" width="4.5" height="12" rx="2" fill="#222"/>
<path d="M1017,316 L1017,332 Q1015,335 1009,335 L998,335" fill="none" stroke="#111" stroke-width="1.0" stroke-linejoin="round" />
<path d="M940.4,338.8 L1046,338.8" fill="none" stroke="#111" stroke-width="1.0" stroke-linejoin="round" />
<path d="M940.4,332 Q995,318 1046,300.5" fill="none" stroke="#999" stroke-width="0.8" stroke-linejoin="round" />
<rect x="1047.5" y="251.5" width="248" height="13" fill="url(#coil2)"/>
<path d="M1047.5,251.5 L1296,251.5" fill="none" stroke="#111" stroke-width="1.8" stroke-linejoin="round" />
<path d="M1047.5,264.5 L1296,264.5" fill="none" stroke="#111" stroke-width="2.6" stroke-linejoin="round" />
<path d="M540.6,284.2 L549.2,283.3 L551.2,285.2 L554,281.3 L556,283.8 L562.7,280.4 L566.5,279.9 L570.4,280.9 L587.7,275.1 L590,276.5 L592,282.8 L600.2,284.2 L603,284.7 L611.3,323.7 L609.8,331.3 L603,331.3 L601.6,332.8 L597.3,327.5 L590.6,330.4 L588.7,341 L558.8,347.2 L555,341 L552.6,344.8 L537.7,349.1 L521.3,349.1 L518.5,341 L517.5,330.4 L531.9,324.6 L532.4,316.9 L528,311.2 L539.6,297.7 L538.2,290 Z" fill="none" stroke="#111" stroke-width="1.2" stroke-linejoin="round" />
<path d="M518.5,341 L512,337 L506,341 L500,342 L496,347 L490,348" fill="none" stroke="#111" stroke-width="1.1" stroke-linejoin="round" />
<rect x="489" y="343" width="2.5" height="8" fill="#222" transform="rotate(-12 490 347)"/><rect x="494" y="342" width="2.5" height="8" fill="#222" transform="rotate(-12 495 346)"/>
<path d="M383.5,369 L520,340" fill="none" stroke="#444" stroke-width="2.6" stroke-linejoin="round" />
<rect x="322" y="375" width="45.5" height="6.8" rx="3.2" fill="#fff" stroke="#111" stroke-width="1.3" transform="rotate(-8.5 322 378.3)"/>
<rect x="367" y="369" width="17" height="5.2" rx="2" fill="#fff" stroke="#111" stroke-width="1.2" transform="rotate(-10 367 371.5)"/>
<path d="M345.5,372 L347.5,379.5" fill="none" stroke="#111" stroke-width="1.3" stroke-linejoin="round" />
<path d="M370.9,339.7 L368.2,369.5 M380.4,341.8 L379,366.8" fill="none" stroke="#111" stroke-width="1.1" stroke-linejoin="round" />
<path d="M341.1,348.5 Q322,354 321.5,374 M341.1,348.5 Q345,358 346.6,372.5 M323.5,383 Q327,399 352.7,404.7 L347.9,380.4" fill="none" stroke="#444" stroke-width="1.0" stroke-linejoin="round" />
<path d="M237.5,633.8 C247.9,631.2 279.6,623.2 300.0,618.2 C320.4,613.2 340.0,608.4 360.0,603.9 C380.0,599.4 400.0,595.1 420.0,591.1 C440.0,587.1 460.0,583.3 480.0,580.1 C500.0,576.9 520.0,574.0 540.0,571.8 C560.0,569.5 579.6,567.7 600.0,566.6 C620.4,565.5 642.5,565.0 662.5,565.2 C682.5,565.5 698.3,565.9 720.0,568.1 C741.7,570.3 764.2,573.2 792.5,578.5 C820.8,583.8 865.4,594.0 890.0,600.0 C914.6,606.0 914.0,606.6 940.0,614.5 C966.0,622.4 1007.7,634.9 1046.0,647.5 C1084.3,660.1 1137.7,679.2 1170.0,690.3 C1202.3,701.3 1218.9,706.3 1240.0,713.8 C1261.1,721.3 1265.3,723.1 1296.6,735.2 C1327.9,747.3 1405.8,777.9 1427.7,786.4" fill="none" stroke="#111" stroke-width="1.7" stroke-linejoin="round" />
<path d="M1427.7,786.6 C1405.8,795.1 1327.9,825.7 1296.6,837.8 C1265.3,849.9 1261.1,851.7 1240.0,859.2 C1218.9,866.7 1202.3,871.7 1170.0,882.7 C1137.7,893.8 1084.3,912.9 1046.0,925.5 C1007.7,938.1 966.0,950.6 940.0,958.5 C914.0,966.4 914.6,967.0 890.0,973.0 C865.4,979.0 820.8,989.2 792.5,994.5 C764.2,999.8 741.7,1002.7 720.0,1004.9 C698.3,1007.1 682.5,1007.5 662.5,1007.8 C642.5,1008.0 620.4,1007.5 600.0,1006.4 C579.6,1005.3 560.0,1003.5 540.0,1001.2 C520.0,999.0 500.0,996.1 480.0,992.9 C460.0,989.7 440.0,985.9 420.0,981.9 C400.0,977.9 380.0,973.6 360.0,969.1 C340.0,964.6 320.4,959.8 300.0,954.8 C279.6,949.8 247.9,941.8 237.5,939.2" fill="none" stroke="#111" stroke-width="1.7" stroke-linejoin="round" />
<path d="M237.5,633.8 C224.6,639.8 179.2,659.0 160.0,670.0 C140.8,681.0 131.5,689.2 122.5,700.0 C113.5,710.8 109.2,720.6 106.2,735.0 C103.2,749.4 104.5,770.6 104.5,786.4 C104.5,802.2 103.0,817.3 106.0,830.0 C109.0,842.7 111.4,850.0 122.5,862.5 C133.6,875.0 153.8,892.1 172.5,905.0 C191.2,917.9 224.6,934.2 235.0,940.0" fill="none" stroke="#111" stroke-width="1.6" stroke-linejoin="round" />
<path d="M71,786.6 L1450,786.6" fill="none" stroke="#999" stroke-width="0.9" stroke-dasharray="14 3 2 3"/>
<path d="M236.3,634 L236.3,682.5 C231,720 225,760 225,787 C225,820 235,860 237.5,887.5 L236.3,940" fill="none" stroke="#111" stroke-width="1.6" stroke-linejoin="round" />
<path d="M252.6,739.6 L516.1,739.6 M252.6,739.6 L252.6,943.8" fill="none" stroke="#111" stroke-width="1.8" stroke-linejoin="round" />
<path d="M255.7,882.3 C264.2,885.3 289.5,894.1 306.7,900.6 C323.9,907.1 341.7,915.0 359.1,921.5 C376.6,928.0 393.9,934.6 411.4,939.9 C428.8,945.1 446.8,949.3 463.8,953.0 C480.8,956.7 505.2,960.5 513.5,962.0 L516.1,740" fill="none" stroke="#111" stroke-width="1.1" stroke-linejoin="round" />
<rect x="255.7" y="741" width="11.8" height="142" fill="url(#st)"/>
<path d="M490,741 L504.3,741 L504.3,960 L490,956 Z" fill="url(#st)"/>
<path d="M267.5,741 L267.5,884 M490,741 L490,956 M504.3,741 L504.3,960" fill="none" stroke="#888" stroke-width="0.7" stroke-linejoin="round" />
<rect x="280.6" y="741" width="13" height="29" fill="url(#st)"/>
<rect x="280.6" y="793.3" width="13" height="48" fill="url(#st)"/>
<rect x="280.6" y="863.6" width="13" height="30" fill="url(#st)"/>
<path d="M280.6,741 L280.6,893.6 M293.6,741 L293.6,893.6" fill="none" stroke="#888" stroke-width="0.7" stroke-linejoin="round" />
<rect x="306.7" y="741" width="13" height="29" fill="url(#st)"/>
<rect x="306.7" y="798.1" width="13" height="48" fill="url(#st)"/>
<rect x="306.7" y="873.2" width="13" height="30" fill="url(#st)"/>
<path d="M306.7,741 L306.7,903.2 M319.7,741 L319.7,903.2" fill="none" stroke="#888" stroke-width="0.7" stroke-linejoin="round" />
<rect x="332.9" y="741" width="13" height="29" fill="url(#st)"/>
<rect x="332.9" y="803.3" width="13" height="48" fill="url(#st)"/>
<rect x="332.9" y="883.6" width="13" height="30" fill="url(#st)"/>
<path d="M332.9,741 L332.9,913.6 M345.9,741 L345.9,913.6" fill="none" stroke="#888" stroke-width="0.7" stroke-linejoin="round" />
<rect x="359" y="741" width="13" height="29" fill="url(#st)"/>
<rect x="359" y="808.4" width="13" height="48" fill="url(#st)"/>
<rect x="359" y="893.8" width="13" height="30" fill="url(#st)"/>
<path d="M359,741 L359,923.8 M372,741 L372,923.8" fill="none" stroke="#888" stroke-width="0.7" stroke-linejoin="round" />
<rect x="385.3" y="741" width="13" height="29" fill="url(#st)"/>
<rect x="385.3" y="813.0" width="13" height="48" fill="url(#st)"/>
<rect x="385.3" y="903.0" width="13" height="30" fill="url(#st)"/>
<path d="M385.3,741 L385.3,933.0 M398.3,741 L398.3,933.0" fill="none" stroke="#888" stroke-width="0.7" stroke-linejoin="round" />
<rect x="411.4" y="741" width="13" height="29" fill="url(#st)"/>
<rect x="411.4" y="817.3" width="13" height="48" fill="url(#st)"/>
<rect x="411.4" y="911.5" width="13" height="30" fill="url(#st)"/>
<path d="M411.4,741 L411.4,941.5 M424.4,741 L424.4,941.5" fill="none" stroke="#888" stroke-width="0.7" stroke-linejoin="round" />
<rect x="437.6" y="741" width="13" height="29" fill="url(#st)"/>
<rect x="437.6" y="820.5" width="13" height="48" fill="url(#st)"/>
<rect x="437.6" y="918.1" width="13" height="30" fill="url(#st)"/>
<path d="M437.6,741 L437.6,948.1 M450.6,741 L450.6,948.1" fill="none" stroke="#888" stroke-width="0.7" stroke-linejoin="round" />
<rect x="463.8" y="741" width="13" height="29" fill="url(#st)"/>
<rect x="463.8" y="823.6" width="13" height="48" fill="url(#st)"/>
<rect x="463.8" y="924.2" width="13" height="30" fill="url(#st)"/>
<path d="M463.8,741 L463.8,954.2 M476.8,741 L476.8,954.2" fill="none" stroke="#888" stroke-width="0.7" stroke-linejoin="round" />
<path d="M517.5,575 L517.5,999" fill="none" stroke="#111" stroke-width="1.6" stroke-linejoin="round" />
<path d="M663.75,565 L663.75,629 M663.75,865 L663.75,1008" fill="none" stroke="#111" stroke-width="1.5" stroke-linejoin="round" />
<path d="M791,578.5 L791,629 M791,946 L791,994" fill="none" stroke="#111" stroke-width="1.5" stroke-linejoin="round" />
<path d="M517.5,603.4 L663,603.4" fill="none" stroke="#111" stroke-width="1.6" stroke-linejoin="round" />
<path d="M517.5,983.75 L663.75,983.75 M591,983.75 L591,1006" fill="none" stroke="#111" stroke-width="1.5" stroke-linejoin="round" />
<path d="M940,614.5 L940,958.8" fill="none" stroke="#111" stroke-width="1.6" stroke-linejoin="round" />
<path d="M1046,647.5 L1046,925" fill="none" stroke="#111" stroke-width="1.6" stroke-linejoin="round" />
<path d="M1296.6,735.2 L1296.6,836.7" fill="none" stroke="#111" stroke-width="1.7" stroke-linejoin="round" />
<path d="M577.5,604.5 L656,604.5 L656,662.5 L577.5,662.5 Z" fill="none" stroke="#111" stroke-width="1.2" stroke-linejoin="round" />
<path d="M584,611 L648,611 Q651,611 651,614 L651,653 Q651,656 648,656 L584,656 Q581,656 581,653 L581,614 Q581,611 584,611 Z" fill="none" stroke="#111" stroke-width="1.4" stroke-linejoin="round" />
<path d="M609,617 L623,631 M609,631 L623,617" fill="none" stroke="#111" stroke-width="1.0" stroke-linejoin="round" />
<circle cx="616" cy="624" r="2.6" fill="#fff" stroke="#111" stroke-width="1"/>
<path d="M592,637 L606,651 M592,651 L606,637" fill="none" stroke="#111" stroke-width="1.0" stroke-linejoin="round" />
<circle cx="599" cy="644" r="2.6" fill="#fff" stroke="#111" stroke-width="1"/>
<path d="M627,637 L641,651 M627,651 L641,637" fill="none" stroke="#111" stroke-width="1.0" stroke-linejoin="round" />
<circle cx="634" cy="644" r="2.6" fill="#fff" stroke="#111" stroke-width="1"/>
<rect x="594" y="656" width="6" height="2.5" fill="#222"/>
<rect x="613" y="656" width="6" height="2.5" fill="#222"/>
<rect x="632" y="656" width="6" height="2.5" fill="#222"/>
<path d="M532,667 L568,667 Q571.7,667 571.7,671 L571.7,731 Q571.7,735 568,735 L532,735 Q528,735 528,731 L528,671 Q528,667 532,667 Z" fill="none" stroke="#111" stroke-width="1.5" stroke-linejoin="round" />
<path d="M531,670 L569,670 L569,732 L531,732 Z" fill="none" stroke="#777" stroke-width="0.8" stroke-linejoin="round" />
<path d="M528,700.6 L571.7,700.6" fill="none" stroke="#111" stroke-width="1.2" stroke-linejoin="round" />
<circle cx="534.9" cy="695.4" r="2" fill="#333"/><circle cx="534.9" cy="706.6" r="2" fill="#333"/>
<path d="M576,605 L576,739" fill="none" stroke="#111" stroke-width="1.3" stroke-linejoin="round" />
<path d="M577.7,663.7 L661,663.7 M577.7,670.5 L661,670.5 M577.7,677.3 L661,677.3 M577.7,684.1 L661,684.1 M577.7,690.9 L661,690.9 M577.7,697.7 L661,697.7 M577.7,704.5 L661,704.5 M577.7,711.3 L724.3,711.3 M577.7,718.1 L724.3,718.1 M577.7,724.9 L724.3,724.9 M577.7,731.7 L724.3,731.7 M577.7,738.5 L724.3,738.5 M577.7,745.3 L724.3,745.3 M577.7,752.1 L724.3,752.1 M577.7,758.9 L724.3,758.9 M577.7,765.7 L724.3,765.7 M577.7,772.5 L724.3,772.5 M577.7,779.3 L724.3,779.3 M577.7,786.1 L724.3,786.1 M577.7,792.9 L724.3,792.9 M577.7,799.7 L724.3,799.7 M577.7,806.5 L724.3,806.5 M577.7,813.3 L724.3,813.3 M577.7,820.1 L724.3,820.1 M577.7,826.9 L724.3,826.9 M577.7,833.7 L724.3,833.7 M517.5,840.5 L724.3,840.5 M517.5,847.3 L724.3,847.3 M517.5,854.1 L724.3,854.1 M517.5,860.9 L724.3,860.9 M517.5,867.7 L663,867.7 M517.5,874.5 L663,874.5 M517.5,881.3 L663,881.3 M517.5,888.1 L663,888.1 M517.5,894.9 L663,894.9 M517.5,901.7 L663,901.7 M517.5,908.5 L663,908.5 M724.3,807.5 L861,807.5 M724.3,814.3 L861,814.3 M724.3,821.1 L861,821.1 M724.3,827.9 L861,827.9 M724.3,834.7 L861,834.7 M724.3,841.5 L861,841.5 M724.3,848.3 L861,848.3 M724.3,855.1 L861,855.1 M861,713.5 L869,713.5 M861,720.3 L869,720.3 M861,727.1 L869,727.1 M861,733.9 L869,733.9 M861,740.7 L869,740.7 M861,747.5 L869,747.5 M861,754.3 L869,754.3 M861,761.1 L869,761.1 M861,767.9 L869,767.9 M861,774.7 L869,774.7 M861,781.5 L869,781.5 M861,788.3 L869,788.3 M861,795.1 L869,795.1 M861,801.9 L869,801.9 M861,808.7 L869,808.7 M861,815.5 L869,815.5 M861,822.3 L869,822.3 M861,829.1 L869,829.1 M861,835.9 L869,835.9 M861,842.7 L869,842.7 M861,849.5 L869,849.5 M861,856.3 L869,856.3 M861,863.1 L869,863.1 M869,790.0 L940,790.0 M869,796.8 L940,796.8 M869,803.6 L940,803.6 M869,810.4 L940,810.4 M869,817.2 L940,817.2 M869,824.0 L940,824.0 M869,830.8 L940,830.8 M869,837.6 L940,837.6 M869,844.4 L940,844.4 M869,851.2 L940,851.2 M869,858.0 L940,858.0 M869,864.8 L940,864.8" fill="none" stroke="#555" stroke-width="0.9"/>
<path d="M577.7,663 L661,663" fill="none" stroke="#111" stroke-width="1.4" stroke-linejoin="round" />
<path d="M517.5,911 L663,911" fill="none" stroke="#111" stroke-width="1.4" stroke-linejoin="round" />
<path d="M579.3,701.3 L660.5,684.5" fill="none" stroke="#444" stroke-width="0.8" stroke-linejoin="round" />
<rect x="516.5" y="739" width="60.5" height="95" rx="3" fill="#fff" stroke="#111" stroke-width="1.2"/>
<rect x="577.7" y="747.7" width="71.2" height="78.9" rx="3" fill="#fff" stroke="#333" stroke-width="1.0"/>
<rect x="556.3" y="747.7" width="21.4" height="78.9" rx="2" fill="#fff" stroke="#111" stroke-width="1.2"/>
<rect x="577.7" y="751.2" width="25.8" height="72" rx="2" fill="#fff" stroke="#111" stroke-width="1.2"/>
<rect x="603.5" y="751.2" width="20.5" height="72" rx="2" fill="#fff" stroke="#111" stroke-width="1.2"/>
<rect x="603.5" y="761.5" width="28.2" height="51.4" rx="2" fill="#fff" stroke="#111" stroke-width="1.2"/>
<rect x="630.9" y="761.5" width="12" height="51.4" rx="2" fill="#fff" stroke="#111" stroke-width="1.2"/>
<rect x="560.0" y="764.9" width="2.8" height="44.6" rx="1.4" fill="#111"/>
<rect x="570.3000000000001" y="764.9" width="2.8" height="44.6" rx="1.4" fill="#111"/>
<rect x="586.6" y="764.9" width="2.8" height="44.6" rx="1.4" fill="#111"/>
<rect x="596.9" y="764.9" width="2.8" height="44.6" rx="1.4" fill="#111"/>
<rect x="614.9" y="764.9" width="2.8" height="44.6" rx="1.4" fill="#111"/>
<rect x="625.2" y="764.9" width="2.8" height="44.6" rx="1.4" fill="#111"/>
<rect x="636.3000000000001" y="764.9" width="2.8" height="44.6" rx="1.4" fill="#111"/>
<rect x="574" y="866" width="46" height="39" rx="8" fill="#fff" stroke="#111" stroke-width="1.2"/>
<rect x="584" y="870" width="26" height="35" fill="#fff" stroke="#444" stroke-width="0.8"/>
<path d="M575,875 Q578,868 586,867 L609,867 Q617,868 619,875" fill="none" stroke="#111" stroke-width="1.1" stroke-linejoin="round" />
<rect x="584" y="867.5" width="26" height="6" fill="#bbb"/>
<path d="M575,875.5 L619,875.5" fill="none" stroke="#111" stroke-width="1.2" stroke-linejoin="round" />
<path d="M584,873.0 L610,873.0" stroke="#666" stroke-width="0.6"/>
<path d="M584,876.5 L610,876.5" stroke="#666" stroke-width="0.6"/>
<path d="M584,880.0 L610,880.0" stroke="#666" stroke-width="0.6"/>
<path d="M584,883.5 L610,883.5" stroke="#666" stroke-width="0.6"/>
<path d="M584,887.0 L610,887.0" stroke="#666" stroke-width="0.6"/>
<path d="M584,890.5 L610,890.5" stroke="#666" stroke-width="0.6"/>
<path d="M584,894.0 L610,894.0" stroke="#666" stroke-width="0.6"/>
<path d="M584,897.5 L610,897.5" stroke="#666" stroke-width="0.6"/>
<path d="M584,901.0 L610,901.0" stroke="#666" stroke-width="0.6"/>
<path d="M520,845 C540,865 560,870 574,875" fill="none" stroke="#555" stroke-width="0.8" stroke-linejoin="round" />
<path d="M620,882 L660,889" fill="none" stroke="#555" stroke-width="0.8" stroke-linejoin="round" />
<path d="M735,713.5 L850.4,713.5 Q860.4,713.5 860.4,723.5 L860.4,797.5 Q860.4,807.5 850.4,807.5 L735,807.5 Q724.7,807.5 724.7,797.5 L724.7,723.5 Q724.7,713.5 735,713.5 Z" fill="none" stroke="#111" stroke-width="1.5" stroke-linejoin="round" />
<path d="M724.7,807.5 L724.7,865 M860.4,807.5 L860.4,852 Q860.4,860 852,860 L735,860 Q724.7,860 724.7,852" fill="none" stroke="#111" stroke-width="1.0" stroke-linejoin="round" />
<path d="M795,748 L848,748 Q851,748 851,751 L851,823 Q851,826 848,826 L795,826 Q791.6,826 791.6,823 L791.6,751 Q791.6,748 795,748 Z" fill="none" stroke="#111" stroke-width="1.0" stroke-linejoin="round" />
<path d="M663.4,629 L939.4,629" fill="none" stroke="#111" stroke-width="1.8" stroke-linejoin="round" />
<path d="M663.4,629 L663.4,706" fill="none" stroke="#111" stroke-width="1.6" stroke-linejoin="round" />
<path d="M663.4,640 L880,640" fill="none" stroke="#666" stroke-width="0.8" stroke-linejoin="round" />
<path d="M663.4,649.4 L885,649.4" fill="none" stroke="#111" stroke-width="1.0" stroke-linejoin="round" />
<path d="M663.4,706 L870.6,706 M663.4,709 L870.6,709" fill="none" stroke="#111" stroke-width="1.0" stroke-linejoin="round" />
<rect x="678.2" y="630" width="13" height="19" fill="url(#st)"/>
<rect x="704.2" y="630" width="13" height="19" fill="url(#st)"/>
<rect x="730.3" y="630" width="13" height="19" fill="url(#st)"/>
<rect x="756.4" y="630" width="13" height="19" fill="url(#st)"/>
<rect x="782.4" y="630" width="13" height="19" fill="url(#st)"/>
<rect x="808.5" y="630" width="13" height="19" fill="url(#st)"/>
<rect x="834.5" y="630" width="13" height="19" fill="url(#st)"/>
<rect x="860.6" y="630" width="13" height="19" fill="url(#st)"/>
<rect x="665.2" y="649.8" width="12.5" height="12.6" fill="url(#st)"/>
<rect x="665.2" y="689.4" width="12.5" height="16.4" fill="url(#st)"/>
<path d="M677.7,650 L677.7,706 M690.2,650 L690.2,706" fill="none" stroke="#888" stroke-width="0.7" stroke-linejoin="round" />
<rect x="691.2" y="649.8" width="12.5" height="12.6" fill="url(#st)"/>
<rect x="691.2" y="689.4" width="12.5" height="16.4" fill="url(#st)"/>
<path d="M703.8,650 L703.8,706 M716.2,650 L716.2,706" fill="none" stroke="#888" stroke-width="0.7" stroke-linejoin="round" />
<rect x="717.3" y="649.8" width="12.5" height="12.6" fill="url(#st)"/>
<rect x="717.3" y="689.4" width="12.5" height="16.4" fill="url(#st)"/>
<path d="M729.8,650 L729.8,706 M742.3,650 L742.3,706" fill="none" stroke="#888" stroke-width="0.7" stroke-linejoin="round" />
<rect x="743.4" y="649.8" width="12.5" height="12.6" fill="url(#st)"/>
<rect x="743.4" y="689.4" width="12.5" height="16.4" fill="url(#st)"/>
<path d="M755.9,650 L755.9,706 M768.4,650 L768.4,706" fill="none" stroke="#888" stroke-width="0.7" stroke-linejoin="round" />
<rect x="769.4" y="649.8" width="12.5" height="12.6" fill="url(#st)"/>
<rect x="769.4" y="689.4" width="12.5" height="16.4" fill="url(#st)"/>
<path d="M781.9,650 L781.9,706 M794.4,650 L794.4,706" fill="none" stroke="#888" stroke-width="0.7" stroke-linejoin="round" />
<rect x="795.5" y="649.8" width="12.5" height="12.6" fill="url(#st)"/>
<rect x="795.5" y="689.4" width="12.5" height="16.4" fill="url(#st)"/>
<path d="M808.0,650 L808.0,706 M820.5,650 L820.5,706" fill="none" stroke="#888" stroke-width="0.7" stroke-linejoin="round" />
<rect x="821.5" y="649.8" width="12.5" height="12.6" fill="url(#st)"/>
<rect x="821.5" y="689.4" width="12.5" height="16.4" fill="url(#st)"/>
<path d="M834.0,650 L834.0,706 M846.5,650 L846.5,706" fill="none" stroke="#888" stroke-width="0.7" stroke-linejoin="round" />
<rect x="847.6" y="649.8" width="12.5" height="12.6" fill="url(#st)"/>
<rect x="847.6" y="689.4" width="12.5" height="16.4" fill="url(#st)"/>
<path d="M860.1,650 L860.1,706 M872.6,650 L872.6,706" fill="none" stroke="#888" stroke-width="0.7" stroke-linejoin="round" />
<rect x="873.6" y="649.8" width="12.5" height="12.6" fill="url(#st)"/>
<rect x="873.6" y="689.4" width="12.5" height="16.4" fill="url(#st)"/>
<path d="M886.1,650 L886.1,706 M898.6,650 L898.6,706" fill="none" stroke="#888" stroke-width="0.7" stroke-linejoin="round" />
<circle cx="663.4" cy="708" r="2.8" fill="#fff" stroke="#111" stroke-width="1"/>
<clipPath id="cclip"><rect x="883" y="629.8" width="56" height="78"/></clipPath><g clip-path="url(#cclip)">
<rect x="908" y="627" width="16" height="19" fill="url(#st)" transform="rotate(38 916 636.5)"/>
<rect x="925" y="669" width="15" height="14" fill="url(#st)" transform="rotate(70 932.5 676)"/>
<rect x="889" y="637" width="12" height="16" fill="url(#st)" transform="rotate(22 895 645)"/>
<rect x="906" y="657" width="10" height="30" fill="url(#st)" transform="rotate(-28 911 672)"/>
<rect x="926" y="693" width="13" height="9" fill="url(#st)"/>
</g>
<path d="M883,649.6 C906,650 922.8,675 922.8,702" fill="none" stroke="#fff" stroke-width="3"/>
<path d="M883,649.6 C906,650 922.8,675 922.8,707.7" fill="none" stroke="#111" stroke-width="1.5" stroke-linejoin="round" />
<path d="M900,640.5 C918,645 930,670 930,707.7" fill="none" stroke="#111" stroke-width="1.2" stroke-linejoin="round" />
<path d="M887,629.5 L887,649.4" fill="none" stroke="#666" stroke-width="0.7" stroke-linejoin="round" />
<path d="M870.6,706 L870.6,775 Q870.6,784.2 880,784.2 L922.7,784.2 L922.7,702" fill="none" stroke="#111" stroke-width="1.4" stroke-linejoin="round" />
<path d="M874,709 L874,772 Q874,780 882,780 L919,780" fill="none" stroke="#555" stroke-width="0.8" stroke-linejoin="round" />
<rect x="872" y="706" width="15" height="12.5" fill="url(#st)"/>
<rect x="912.5" y="706" width="10" height="12.5" fill="url(#st)"/>
<path d="M870.6,718.5 L922.7,718.5 M870.6,725 L922.7,725" fill="none" stroke="#888" stroke-width="0.7" stroke-linejoin="round" />
<rect x="872" y="731" width="15" height="12.5" fill="url(#st)"/>
<rect x="912.5" y="731" width="10" height="12.5" fill="url(#st)"/>
<path d="M870.6,743.5 L922.7,743.5 M870.6,750 L922.7,750" fill="none" stroke="#888" stroke-width="0.7" stroke-linejoin="round" />
<rect x="872" y="757" width="15" height="12.5" fill="url(#st)"/>
<rect x="912.5" y="757" width="10" height="12.5" fill="url(#st)"/>
<path d="M870.6,769.5 L922.7,769.5 M870.6,776 L922.7,776" fill="none" stroke="#888" stroke-width="0.7" stroke-linejoin="round" />
<rect x="923" y="702" width="16" height="9" fill="url(#st)"/>
<rect x="923" y="716" width="16" height="9" fill="url(#st)"/>
<rect x="923" y="730" width="16" height="9" fill="url(#st)"/>
<rect x="923" y="744" width="16" height="9" fill="url(#st)"/>
<rect x="923" y="758" width="16" height="9" fill="url(#st)"/>
<rect x="923" y="772" width="16" height="9" fill="url(#st)"/>
<path d="M922.7,702 L939.4,702" fill="none" stroke="#111" stroke-width="0.8" stroke-linejoin="round" />
<ellipse cx="915.7" cy="786.5" rx="9.7" ry="7" fill="#fff" stroke="#111" stroke-width="1.1"/>
<path d="M663.75,865 L939.4,865" fill="none" stroke="#111" stroke-width="1.2" stroke-linejoin="round" />
<path d="M663.4,866 L663.4,926" fill="none" stroke="#111" stroke-width="1.5" stroke-linejoin="round" />
<circle cx="663.4" cy="866" r="2.6" fill="#fff" stroke="#111" stroke-width="1"/>
<path d="M663.4,926 L939.4,926" fill="none" stroke="#111" stroke-width="1.0" stroke-linejoin="round" />
<path d="M663.4,935.5 L939.4,935.5" fill="none" stroke="#666" stroke-width="0.8" stroke-linejoin="round" />
<path d="M663.4,945.5 L939.4,945.5" fill="none" stroke="#111" stroke-width="1.8" stroke-linejoin="round" />
<rect x="665.2" y="866.5" width="12.5" height="18" fill="url(#st)"/>
<rect x="665.2" y="911" width="12.5" height="14.5" fill="url(#st)"/>
<path d="M677.7,866 L677.7,926 M690.2,866 L690.2,926" fill="none" stroke="#888" stroke-width="0.7" stroke-linejoin="round" />
<rect x="691.2" y="866.5" width="12.5" height="18" fill="url(#st)"/>
<rect x="691.2" y="911" width="12.5" height="14.5" fill="url(#st)"/>
<path d="M703.8,866 L703.8,926 M716.2,866 L716.2,926" fill="none" stroke="#888" stroke-width="0.7" stroke-linejoin="round" />
<rect x="717.3" y="866.5" width="12.5" height="18" fill="url(#st)"/>
<rect x="717.3" y="911" width="12.5" height="14.5" fill="url(#st)"/>
<path d="M729.8,866 L729.8,926 M742.3,866 L742.3,926" fill="none" stroke="#888" stroke-width="0.7" stroke-linejoin="round" />
<rect x="743.4" y="866.5" width="12.5" height="18" fill="url(#st)"/>
<rect x="743.4" y="911" width="12.5" height="14.5" fill="url(#st)"/>
<path d="M755.9,866 L755.9,926 M768.4,866 L768.4,926" fill="none" stroke="#888" stroke-width="0.7" stroke-linejoin="round" />
<rect x="769.4" y="866.5" width="12.5" height="18" fill="url(#st)"/>
<rect x="769.4" y="911" width="12.5" height="14.5" fill="url(#st)"/>
<path d="M781.9,866 L781.9,926 M794.4,866 L794.4,926" fill="none" stroke="#888" stroke-width="0.7" stroke-linejoin="round" />
<rect x="795.5" y="866.5" width="12.5" height="18" fill="url(#st)"/>
<rect x="795.5" y="911" width="12.5" height="14.5" fill="url(#st)"/>
<path d="M808.0,866 L808.0,926 M820.5,866 L820.5,926" fill="none" stroke="#888" stroke-width="0.7" stroke-linejoin="round" />
<rect x="821.5" y="866.5" width="12.5" height="18" fill="url(#st)"/>
<rect x="821.5" y="911" width="12.5" height="14.5" fill="url(#st)"/>
<path d="M834.0,866 L834.0,926 M846.5,866 L846.5,926" fill="none" stroke="#888" stroke-width="0.7" stroke-linejoin="round" />
<rect x="847.6" y="866.5" width="12.5" height="18" fill="url(#st)"/>
<rect x="847.6" y="911" width="12.5" height="14.5" fill="url(#st)"/>
<path d="M860.1,866 L860.1,926 M872.6,866 L872.6,926" fill="none" stroke="#888" stroke-width="0.7" stroke-linejoin="round" />
<rect x="873.6" y="866.5" width="12.5" height="18" fill="url(#st)"/>
<rect x="873.6" y="911" width="12.5" height="14.5" fill="url(#st)"/>
<path d="M886.1,866 L886.1,926 M898.6,866 L898.6,926" fill="none" stroke="#888" stroke-width="0.7" stroke-linejoin="round" />
<rect x="899.7" y="866.5" width="12.5" height="18" fill="url(#st)"/>
<rect x="899.7" y="911" width="12.5" height="14.5" fill="url(#st)"/>
<path d="M912.2,866 L912.2,926 M924.7,866 L924.7,926" fill="none" stroke="#888" stroke-width="0.7" stroke-linejoin="round" />
<rect x="678.2" y="926.5" width="13" height="18.5" fill="url(#st)"/>
<rect x="704.2" y="926.5" width="13" height="18.5" fill="url(#st)"/>
<rect x="730.3" y="926.5" width="13" height="18.5" fill="url(#st)"/>
<rect x="756.4" y="926.5" width="13" height="18.5" fill="url(#st)"/>
<rect x="782.4" y="926.5" width="13" height="18.5" fill="url(#st)"/>
<rect x="808.5" y="926.5" width="13" height="18.5" fill="url(#st)"/>
<rect x="834.5" y="926.5" width="13" height="18.5" fill="url(#st)"/>
<rect x="860.6" y="926.5" width="13" height="18.5" fill="url(#st)"/>
<rect x="886.6" y="926.5" width="13" height="18.5" fill="url(#st)"/>
<rect x="912.7" y="926.5" width="13" height="18.5" fill="url(#st)"/>
<rect x="926" y="869" width="13" height="15.5" fill="url(#st)"/><rect x="926" y="911" width="13" height="14.5" fill="url(#st)"/>
<path d="M940,629 L1046,660" fill="none" stroke="#555" stroke-width="0.9" stroke-linejoin="round" />
<path d="M940,688.8 L1046,688.8" fill="none" stroke="#111" stroke-width="1.6" stroke-linejoin="round" />
<path d="M940,694 L1046,725" fill="none" stroke="#777" stroke-width="0.8" stroke-linejoin="round" />
<path d="M940,734 L1046,734" fill="none" stroke="#111" stroke-width="1.5" stroke-linejoin="round" />
<path d="M949,741 L1037.5,741 L1037.5,832 L949,852.5 Z" fill="none" stroke="#111" stroke-width="1.0" stroke-linejoin="round" />
<path d="M941,862.5 L1046,838.8" fill="none" stroke="#111" stroke-width="1.0" stroke-linejoin="round" />
<path d="M941,866.3 L1046,866.3" fill="none" stroke="#111" stroke-width="1.7" stroke-linejoin="round" />
<path d="M1044,738 L1044,845 M1048,738 L1048,845" fill="none" stroke="#888" stroke-width="0.8" stroke-linejoin="round" />
<path d="M984,705 C974,707 971.5,715 971.5,723 C971.5,734 979,741.7 990,741.7 C1002,741.7 1010.5,735 1010.5,723 C1010.5,713 1006,706 998,705 Z" fill="none" stroke="#111" stroke-width="1.4" stroke-linejoin="round" />
<path d="M976,712 C973,722 975,734 981,739" fill="none" stroke="#444" stroke-width="0.8" stroke-linejoin="round" />
<path d="M983,705 L983,700 Q986,696 988,700 Q991,695 994,700 Q997,696 1000,701 L1000,705" fill="none" stroke="#111" stroke-width="1.1" stroke-linejoin="round" />
<path d="M992,697 Q996,691 1006,692 Q1016,693 1018,703" fill="none" stroke="#333" stroke-width="1.6" stroke-linejoin="round" />
<path d="M1013,709 Q1012,704 1016,703 Q1017,699 1020,701 Q1024,703 1022,708 Q1026,714 1022,720 L1014,720 Q1011,715 1013,709 Z" fill="none" stroke="#111" stroke-width="1.1" stroke-linejoin="round" />
<rect x="1018" y="716" width="3.6" height="29" fill="#1a1a1a"/>
<path d="M940,794 Q955,794 966.7,800 M962,798 L941,860" fill="none" stroke="#555" stroke-width="0.9" stroke-linejoin="round" />
<path d="M955,873 L947,930" fill="none" stroke="#222" stroke-width="1.3" stroke-linejoin="round" />
<path d="M962,873 L963,932" fill="none" stroke="#222" stroke-width="1.3" stroke-linejoin="round" />
<path d="M977,873 L972,930" fill="none" stroke="#222" stroke-width="1.3" stroke-linejoin="round" />
<path d="M987,873 L991,930" fill="none" stroke="#222" stroke-width="1.3" stroke-linejoin="round" />
<path d="M1001,873 L1002,932" fill="none" stroke="#222" stroke-width="1.3" stroke-linejoin="round" />
<path d="M1014,873 L1008,930" fill="none" stroke="#222" stroke-width="1.3" stroke-linejoin="round" />
<path d="M1031,873 L1024,930" fill="none" stroke="#222" stroke-width="1.3" stroke-linejoin="round" />
<path d="M941,901 L1046,901" fill="none" stroke="#aaa" stroke-width="1.3" stroke-linejoin="round" />
<path d="M1054,672.4 L1294.4,763.8 Q1298,787 1294.4,810 L1054,902.6 Q1049.5,902 1049.5,898 L1049.5,677 Q1049.5,672.4 1054,672.4 Z" fill="none" stroke="#111" stroke-width="1.3" stroke-linejoin="round" />
<path d="M1049.5,787.2 L1296,787.2" fill="none" stroke="#111" stroke-width="2.0" stroke-linejoin="round" />
<clipPath id="vclip"><path d="M1054,672.4 L1294.4,763.8 Q1298,787 1294.4,810 L1054,902.6 Q1049.5,902 1049.5,898 L1049.5,677 Q1049.5,672.4 1054,672.4 Z"/></clipPath>
<g clip-path="url(#vclip)"><rect x="1059.7" y="670" width="13.5" height="234" fill="url(#st)"/><rect x="1086.8" y="685.7" width="12.5" height="27.4" fill="url(#st)"/><rect x="1086.8" y="761.0" width="12.5" height="51.3" fill="url(#st)"/><rect x="1086.8" y="859.2" width="12.5" height="29.9" fill="url(#st)"/><path d="M1086.8,660 L1086.8,910 M1099.3,660 L1099.3,910" stroke="#888" stroke-width="0.7"/><rect x="1112.9" y="695.4" width="12.5" height="25.0" fill="url(#st)"/><rect x="1112.9" y="763.5" width="12.5" height="46.3" fill="url(#st)"/><rect x="1112.9" y="852.0" width="12.5" height="27.3" fill="url(#st)"/><path d="M1112.9,660 L1112.9,910 M1125.4,660 L1125.4,910" stroke="#888" stroke-width="0.7"/><rect x="1138.9" y="705.1" width="12.5" height="22.6" fill="url(#st)"/><rect x="1138.9" y="766.0" width="12.5" height="41.2" fill="url(#st)"/><rect x="1138.9" y="844.8" width="12.5" height="24.6" fill="url(#st)"/><path d="M1138.9,660 L1138.9,910 M1151.4,660 L1151.4,910" stroke="#888" stroke-width="0.7"/><rect x="1165.0" y="714.8" width="12.5" height="20.1" fill="url(#st)"/><rect x="1165.0" y="768.6" width="12.5" height="36.1" fill="url(#st)"/><rect x="1165.0" y="837.6" width="12.5" height="21.9" fill="url(#st)"/><path d="M1165.0,660 L1165.0,910 M1177.5,660 L1177.5,910" stroke="#888" stroke-width="0.7"/><rect x="1191.1" y="724.6" width="12.5" height="17.7" fill="url(#st)"/><rect x="1191.1" y="771.1" width="12.5" height="31.0" fill="url(#st)"/><rect x="1191.1" y="830.4" width="12.5" height="19.3" fill="url(#st)"/><path d="M1191.1,660 L1191.1,910 M1203.6,660 L1203.6,910" stroke="#888" stroke-width="0.7"/><rect x="1217.1" y="734.3" width="12.5" height="15.3" fill="url(#st)"/><rect x="1217.1" y="773.6" width="12.5" height="25.9" fill="url(#st)"/><rect x="1217.1" y="823.2" width="12.5" height="16.6" fill="url(#st)"/><path d="M1217.1,660 L1217.1,910 M1229.6,660 L1229.6,910" stroke="#888" stroke-width="0.7"/><rect x="1243.2" y="744.0" width="12.5" height="12.8" fill="url(#st)"/><rect x="1243.2" y="776.2" width="12.5" height="20.8" fill="url(#st)"/><rect x="1243.2" y="816.0" width="12.5" height="14.0" fill="url(#st)"/><path d="M1243.2,660 L1243.2,910 M1255.7,660 L1255.7,910" stroke="#888" stroke-width="0.7"/><rect x="1269.3" y="756.8" width="12.5" height="60.4" fill="url(#st)"/><path d="M1269.3,660 L1269.3,910 M1281.8,660 L1281.8,910" stroke="#888" stroke-width="0.7"/></g>
<path d="M1264.8,482.5 L1406,482.5" stroke="#666" stroke-width="1.1"/>
<text x="1264.8" y="481.5" textLength="42.1" lengthAdjust="spacingAndGlyphs" style='font-family:"Liberation Sans",sans-serif;font-weight:bold;font-size:6.8px' fill="#1a1a1a">LÄNGE Ü.A.</text>
<text x="1368" y="481.5" textLength="35.8" lengthAdjust="spacingAndGlyphs" style='font-family:"Liberation Sans",sans-serif;font-weight:bold;font-size:6.8px' fill="#1a1a1a">10,10  m.</text>
<path d="M1264.8,492.9 L1406,492.9" stroke="#666" stroke-width="1.1"/>
<text x="1264.8" y="491.9" textLength="45.6" lengthAdjust="spacingAndGlyphs" style='font-family:"Liberation Sans",sans-serif;font-weight:bold;font-size:6.8px' fill="#1a1a1a">LÄNGE W.L.</text>
<text x="1372.7" y="491.9" textLength="31.1" lengthAdjust="spacingAndGlyphs" style='font-family:"Liberation Sans",sans-serif;font-weight:bold;font-size:6.8px' fill="#1a1a1a">8,30  m.</text>
<path d="M1264.8,503.3 L1406,503.3" stroke="#666" stroke-width="1.1"/>
<text x="1266" y="502.3" textLength="30" lengthAdjust="spacingAndGlyphs" style='font-family:"Liberation Sans",sans-serif;font-weight:bold;font-size:6.8px' fill="#1a1a1a">BREITE</text>
<text x="1372.7" y="502.3" textLength="30.0" lengthAdjust="spacingAndGlyphs" style='font-family:"Liberation Sans",sans-serif;font-weight:bold;font-size:6.8px' fill="#1a1a1a">2,50  m.</text>
<path d="M1264.8,513.7 L1406,513.7" stroke="#666" stroke-width="1.1"/>
<text x="1266" y="512.7" textLength="38.6" lengthAdjust="spacingAndGlyphs" style='font-family:"Liberation Sans",sans-serif;font-weight:bold;font-size:6.8px' fill="#1a1a1a">TIEFGANG</text>
<text x="1372.7" y="512.7" textLength="30.0" lengthAdjust="spacingAndGlyphs" style='font-family:"Liberation Sans",sans-serif;font-weight:bold;font-size:6.8px' fill="#1a1a1a">1,75  m.</text>
<path d="M1264.8,534.4 L1406,534.4" stroke="#666" stroke-width="1.1"/>
<text x="1266" y="533.4" textLength="54.8" lengthAdjust="spacingAndGlyphs" style='font-family:"Liberation Sans",sans-serif;font-weight:bold;font-size:6.8px' fill="#1a1a1a">VERDRÄNGUNG</text>
<text x="1369.8" y="533.4" textLength="36.3" lengthAdjust="spacingAndGlyphs" style='font-family:"Liberation Sans",sans-serif;font-weight:bold;font-size:6.8px' fill="#1a1a1a">4050  KG</text>
<path d="M1264.8,545.4 L1406,545.4" stroke="#666" stroke-width="1.1"/>
<text x="1266" y="544.4" textLength="33.4" lengthAdjust="spacingAndGlyphs" style='font-family:"Liberation Sans",sans-serif;font-weight:bold;font-size:6.8px' fill="#1a1a1a">BALLAST</text>
<text x="1370.4" y="544.4" textLength="35.7" lengthAdjust="spacingAndGlyphs" style='font-family:"Liberation Sans",sans-serif;font-weight:bold;font-size:6.8px' fill="#1a1a1a">1600  KG</text>
<path d="M1239.3,1025.3 L1323.5,1025.3" stroke="#999" stroke-width="1" stroke-dasharray="5 2"/>
<path d="M1239.3,1025.3 L1239.3,1093" fill="none" stroke="#666" stroke-width="1.0" stroke-linejoin="round" />
<path d="M1323.6,1016 L1323.6,1093" fill="none" stroke="#444" stroke-width="1.5" stroke-linejoin="round" />
<path d="M1323.5,1025.4 L1541.8,1025.4" fill="none" stroke="#777" stroke-width="1.1" stroke-linejoin="round" />
<path d="M1350.7,1040 L1541.8,1040" fill="none" stroke="#555" stroke-width="1.3" stroke-linejoin="round" />
<path d="M1323.5,1059.2 L1541.8,1059.2" fill="none" stroke="#555" stroke-width="1.3" stroke-linejoin="round" />
<path d="M1479.8,1059.2 L1479.8,1093" fill="none" stroke="#444" stroke-width="1.2" stroke-linejoin="round" />
<path d="M1479.8,1067.2 L1541.8,1067.2 M1479.8,1075.4 L1541.8,1075.4 M1479.8,1084.1 L1541.8,1084.1" fill="none" stroke="#666" stroke-width="1.0" stroke-linejoin="round" />
<text x="1326" y="1022.5" textLength="6" lengthAdjust="spacingAndGlyphs" style='font-family:"Liberation Sans",sans-serif;font-size:3.5px' fill="#888">NO</text>
<text x="1352" y="1022.5" textLength="18" lengthAdjust="spacingAndGlyphs" style='font-family:"Liberation Sans",sans-serif;font-size:3.5px' fill="#888">AFTEKENEN</text>
<rect x="1336.9" y="1026" width="13.8" height="32.8" fill="#111"/>
<path d="M1337,1028.8 Q1343,1031 1348.4,1037.3 Q1345.5,1043 1338.5,1046.6 L1337,1046.6 Z" fill="#fff"/>
<path d="M1337,1033 L1337,1046.6 Q1331,1044.5 1327.5,1040 Q1324.8,1036 1326.5,1034.5 Q1331,1033 1337,1033 Z" fill="#111"/>
<path d="M1335.6,1046.6 L1338.8,1046.6 L1338.8,1054 Q1337.5,1056 1336,1054 Z" fill="#ddd" stroke="#555" stroke-width="0.6"/>
<text x="1369.3" y="1036.3" textLength="152.5" lengthAdjust="spacingAndGlyphs" style='font-family:"Liberation Sans",sans-serif;font-weight:bold;font-size:8.2px' fill="#111">E.G. VAN DE STADT &amp; PARTNERS B.V.</text>
<text x="1422.7" y="1046.6" textLength="45.8" lengthAdjust="spacingAndGlyphs" style='font-family:"Liberation Sans",sans-serif;font-weight:bold;font-size:3.8px' fill="#333">YACHT DESIGNERS</text>
<path d="M1370.4,1053.4 L1521.9,1053.4" stroke="#bbb" stroke-width="1.4" stroke-dasharray="10 2 6 3 14 8 4 2 9 3"/>
<text x="1347.5" y="1068.4" textLength="100.3" lengthAdjust="spacingAndGlyphs" style='font-family:"Liberation Sans",sans-serif;font-weight:bold;font-size:7.3px' fill="#111">-EINRICHTUNGSPLAN-</text>
<text x="1361.7" y="1079.4" textLength="55.6" lengthAdjust="spacingAndGlyphs" style='font-family:"Liberation Sans",sans-serif;font-weight:bold;font-size:7.3px' fill="#222">DEHLER - 34</text>
<text x="1326.8" y="1090.3" textLength="27.2" lengthAdjust="spacingAndGlyphs" style='font-family:"Liberation Sans",sans-serif;font-weight:bold;font-size:6.2px' fill="#111">DEHLER</text>
<text x="1359.5" y="1090.3" textLength="38.1" lengthAdjust="spacingAndGlyphs" style='font-family:"Liberation Sans",sans-serif;font-size:6.2px' fill="#333">YACHTBAU</text>
<text x="1425" y="1090.3" textLength="40" lengthAdjust="spacingAndGlyphs" style='font-family:"Liberation Sans",sans-serif;font-weight:bold;font-size:5.8px' fill="#222">FREUDENBERG</text>
<text x="1483" y="1064.5" textLength="9" lengthAdjust="spacingAndGlyphs" style='font-family:"Liberation Sans",sans-serif;font-size:3px' fill="#aaa">SCHAAL</text>
<text x="1504.5" y="1065.6" textLength="17.5" lengthAdjust="spacingAndGlyphs" style='font-family:"Liberation Sans",sans-serif;font-weight:bold;font-size:6.2px' fill="#111">1 : 10</text>
<text x="1517.6" y="1073.6" textLength="10.4" lengthAdjust="spacingAndGlyphs" style='font-family:"Liberation Sans",sans-serif;font-weight:bold;font-size:6.2px;font-style:italic' fill="#111">KP</text>
<text x="1500.7" y="1082.8" textLength="33.2" lengthAdjust="spacingAndGlyphs" style='font-family:"Liberation Sans",sans-serif;font-weight:bold;font-size:6.2px' fill="#111">8 . 5 . 81</text>
<text x="1497.9" y="1091.2" textLength="34.9" lengthAdjust="spacingAndGlyphs" style='font-family:"Liberation Sans",sans-serif;font-weight:bold;font-size:6.2px' fill="#222">310 - 34</text>
<text x="1248" y="1040.5" style='font-family:"Liberation Sans",sans-serif;font-weight:bold;font-size:4px;letter-spacing:0.1px' fill="#222">ALL RIGHTS OF THIS DESIGN</text>
<text x="1248" y="1046" style='font-family:"Liberation Sans",sans-serif;font-weight:bold;font-size:4px;letter-spacing:0.1px' fill="#222">AND DETAILS ARE RESERVED</text>
<path d="M1247,1051.5 L1319,1051.5" stroke="#bbb" stroke-width="1.6" stroke-dasharray="3 1 5 1 2 1"/>
<path d="M1247,1057 L1319,1057" stroke="#bbb" stroke-width="1.6" stroke-dasharray="3 1 5 1 2 1"/>
<path d="M1247,1062.5 L1319,1062.5" stroke="#bbb" stroke-width="1.6" stroke-dasharray="3 1 5 1 2 1"/>
<path d="M1247,1068 L1319,1068" stroke="#bbb" stroke-width="1.6" stroke-dasharray="3 1 5 1 2 1"/>
<path d="M1247,1073.5 L1319,1073.5" stroke="#bbb" stroke-width="1.6" stroke-dasharray="3 1 5 1 2 1"/>
<path d="M1247,1079 L1267,1079" stroke="#bbb" stroke-width="1.6" stroke-dasharray="3 1 5 1 2 1"/>
<path d="M1372,1071 Q1405,1061 1440,1071 Q1468,1081 1490,1087 Q1515,1093 1537,1091.5" fill="none" stroke="#7adde8" stroke-width="5.5" stroke-linecap="round" opacity="0.85"/>
<path d="M1474,1070 Q1489,1075 1484,1086 M1488,1089 Q1515,1093 1537,1091.5" fill="none" stroke="#62b2ea" stroke-width="4" stroke-linecap="round" opacity="0.85"/>
<ellipse cx="1483" cy="1080.5" rx="3" ry="3.8" fill="#6ea4e4" opacity="0.85"/>
</svg></body></html>
